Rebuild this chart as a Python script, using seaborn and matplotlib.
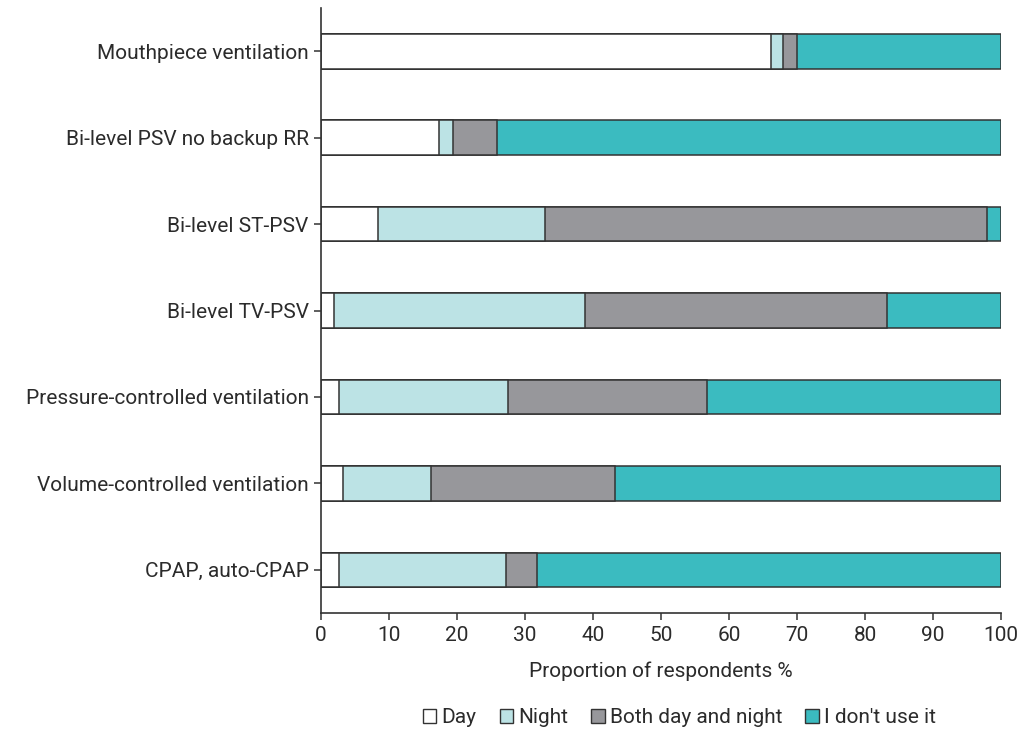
import matplotlib
matplotlib.use("Agg")
import matplotlib.pyplot as plt
from matplotlib.patches import Patch
import seaborn as sns
import pandas as pd
import numpy as np

categories = ["Mouthpiece ventilation", "Bi-level PSV no backup RR", "Bi-level ST-PSV",
              "Bi-level TV-PSV", "Pressure-controlled ventilation",
              "Volume-controlled ventilation", "CPAP, auto-CPAP"]
day = [66.1, 17.4, 8.4, 1.9, 2.6, 3.2, 2.6]
night = [1.9, 2.0, 24.6, 36.9, 24.9, 12.9, 24.6]
both = [2.0, 6.5, 64.9, 44.4, 29.2, 27.2, 4.6]
none_ = [30.0, 74.1, 2.1, 16.8, 43.3, 56.7, 68.2]
series = ["Day", "Night", "Both day and night", "I don't use it"]
colors = ["#ffffff", "#bce3e5", "#97979b", "#3bbbc0"]
xticks = [0, 10, 20, 30, 40, 50, 60, 70, 80, 90, 100]

sns.set_theme(style="white")
plt.rcParams["font.family"] = ["Roboto", "DejaVu Sans"]
TXT = "#2b2b2b"
FS = 15

df = pd.DataFrame({"category": categories, "Day": day, "Night": night,
                   "Both day and night": both, "I don't use it": none_})
cum = df[series].cumsum(axis=1)

fig = plt.figure(figsize=(10.28, 7.31), dpi=100)
ax = fig.add_axes([0.3123, 0.1614, 0.6615, 0.8276])

for s, c in reversed(list(zip(series, colors))):
    sns.barplot(x=cum[s].values, y=df["category"], orient="h", color=c, width=0.4,
                edgecolor="#333333", linewidth=1.1, saturation=1, ax=ax)

ax.set_xlim(0, 100)
ax.set_ylim(6.5, -0.5)
ax.set_xticks(xticks)
ax.set_xticklabels([str(t) for t in xticks])
ax.set_xlabel("Proportion of respondents %", fontsize=FS, color=TXT, labelpad=12)
ax.set_ylabel("")
for sp in ["top", "right"]:
    ax.spines[sp].set_visible(False)
for sp in ["left", "bottom"]:
    ax.spines[sp].set_color("#333333")
    ax.spines[sp].set_linewidth(1.2)
ax.tick_params(axis="both", which="both", length=5, width=1.1, color="#333333",
               labelsize=FS, labelcolor=TXT, direction="out", left=True, bottom=True)
ax.tick_params(axis="y", pad=4)
ax.tick_params(axis="x", pad=4)

handles = [Patch(facecolor=c, edgecolor="#333333", linewidth=1.0, label=s)
           for s, c in zip(series, colors)]
fig.legend(handles=handles, loc="center", bbox_to_anchor=(0.661, 0.018), ncol=4,
           frameon=False, fontsize=FS, handlelength=0.65, handleheight=0.65,
           handletextpad=0.25, columnspacing=1.1, labelcolor=TXT)

fig.savefig("out.png", dpi=100)
